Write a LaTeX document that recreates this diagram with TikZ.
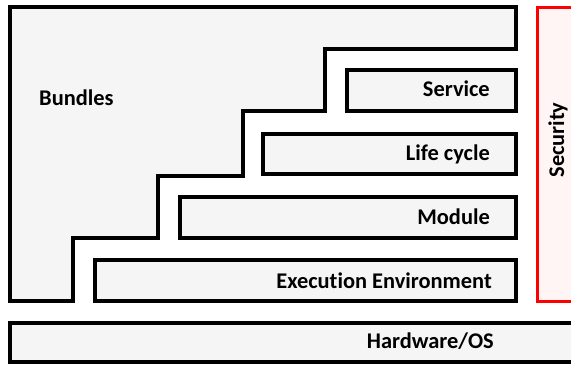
\documentclass[tikz,border=0pt]{standalone}
\usepackage{fontspec}
\setmainfont{Carlito}[Ligatures={NoCommon,NoContextual}]
\definecolor{boxgray}{HTML}{F5F5F5}
\definecolor{secfill}{HTML}{FFF5F5}
\definecolor{secred}{HTML}{FF0000}
\begin{document}
\begin{tikzpicture}[x=1bp,y=-1bp,
  blk/.style={draw=black,line width=4bp,fill=boxgray,line join=miter},
  secbox/.style={draw=secred,line width=3bp,fill=secfill},
  lbl/.style={font=\fontsize{22.5}{26}\selectfont\bfseries,inner sep=0pt,text=black}]
\useasboundingbox (0,0) rectangle (571,365);
\clip (0,0) rectangle (571,365);
\fill[white] (0,0) rectangle (571,365);
% Bundles staircase
\draw[blk] (10,7) -- (516,7) -- (516,48.5) -- (325,48.5) -- (325,111) -- (243,111)
  -- (243,175.5) -- (157.5,175.5) -- (157.5,238) -- (72.5,238) -- (72.5,301) -- (10,301) -- cycle;
% layers
\draw[blk] (346.5,70) rectangle (516,111);
\draw[blk] (262.5,133.5) rectangle (516,174);
\draw[blk] (180,196.5) rectangle (516,237.5);
\draw[blk] (94.5,260) rectangle (516,300.5);
\draw[blk] (10,323) rectangle (600,362);
\draw[secbox] (537,7) rectangle (600,301);
% labels
\node[lbl,anchor=west] (bundles) at (39,98) {Bundles};
\node[lbl,anchor=east] (service) at (490,88.5) {Service};
\node[lbl,anchor=east] (lifecycle) at (490,154.5) {Life cycle};
\node[lbl,anchor=east] (module) at (490,216.5) {Module};
\node[lbl,anchor=east] (exec) at (492,281) {Execution Environment};
\node[lbl,anchor=east] (hw) at (494,341.5) {Hardware/OS};
\node[lbl,rotate=90] (security) at (558,140) {Security};
\end{tikzpicture}
\end{document}
